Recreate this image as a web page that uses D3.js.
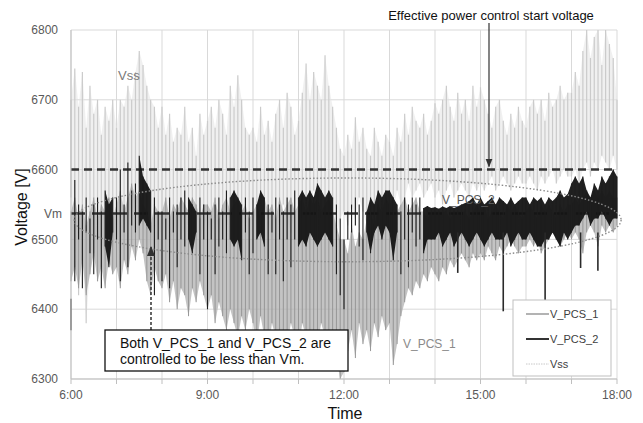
<!DOCTYPE html>
<html><head><meta charset="utf-8">
<script src="https://cdn.jsdelivr.net/npm/d3@7"></script>
<style>body{margin:0;background:#fff}svg{display:block;font-family:"Liberation Sans",Arial,sans-serif}</style>
</head><body><svg id="c" width="643" height="423"></svg>
<script>
// 5-minute bins from 6:00 to 18:00 (145 bins); each bin keeps the max (hi) and min (lo)
const binStartHour = 6, binMinutes = 5;
const vssHi = [
6700,6745,6690,6740,6660,6720,6680,6700,6650,6690,6670,6700,
6660,6700,6690,6720,6700,6740,6770,6750,6720,6700,6690,6660,
6690,6650,6680,6640,6660,6650,6690,6640,6660,6620,6680,6650,
6670,6690,6660,6700,6680,6650,6720,6690,6735,6700,6660,6650,
6660,6640,6690,6650,6670,6640,6680,6700,6660,6710,6690,6650,
6670,6710,6752,6700,6740,6720,6700,6764,6720,6690,6660,6630,
6620,6650,6630,6675,6640,6660,6630,6620,6660,6640,6620,6650,
6640,6620,6660,6640,6680,6650,6690,6670,6660,6680,6650,6670,
6695,6680,6700,6720,6690,6670,6710,6680,6700,6670,6720,6690,
6718,6700,6680,6660,6690,6700,6670,6650,6680,6660,6690,6670,
6660,6690,6700,6680,6700,6670,6710,6690,6700,6720,6700,6710,
6710,6740,6720,6770,6800,6760,6790,6800,6750,6800,6780,6760,
6700];
const vssLo = [
6560,6500,6420,6480,6380,6460,6520,6440,6500,6470,6540,6490,
6520,6460,6540,6500,6560,6530,6580,6520,6480,6500,6460,6520,
6500,6540,6480,6520,6500,6550,6490,6530,6510,6540,6500,6520,
6530,6500,6540,6510,6550,6520,6540,6500,6530,6550,6520,6540,
6520,6540,6510,6550,6530,6500,6540,6520,6550,6530,6510,6540,
6550,6530,6560,6540,6570,6550,6530,6560,6540,6520,6500,6530,
6540,6520,6550,6530,6560,6540,6520,6550,6530,6560,6540,6550,
6560,6540,6570,6550,6560,6580,6560,6570,6580,6560,6570,6580,
6560,6570,6550,6570,6580,6560,6570,6580,6570,6560,6580,6570,
6580,6570,6580,6590,6570,6580,6590,6580,6570,6580,6590,6580,
6580,6590,6580,6570,6590,6580,6590,6600,6580,6590,6600,6590,
6590,6600,6580,6600,6610,6590,6610,6600,6620,6610,6600,6620,
6600];
const pcs1Hi = [
6540,6560,6530,6550,6520,6540,6560,6530,6550,6540,6560,6530,
6550,6570,6540,6560,6580,6560,6570,6550,6540,6520,6550,6540,
6540,6560,6530,6550,6540,6560,6550,6540,6560,6550,6530,6550,
6550,6540,6560,6530,6550,6560,6540,6550,6560,6540,6550,6530,
6540,6550,6530,6560,6540,6550,6530,6560,6540,6550,6560,6540,
6550,6560,6540,6560,6550,6560,6540,6550,6560,6540,6520,6500,
6500,6480,6520,6490,6510,6500,6530,6540,6520,6550,6540,6560,
6550,6560,6540,6550,6560,6540,6550,6560,6540,6540,6530,6540,
6540,6540,6540,6540,6530,6540,6540,6540,6540,6530,6540,6550,
6540,6550,6530,6540,6550,6540,6530,6550,6540,6550,6540,6530,
6540,6550,6540,6530,6550,6540,6550,6540,6530,6550,6540,6550,
6550,6560,6550,6560,6570,6560,6570,6560,6570,6560,6570,6560,
6560];
const pcs1Lo = [
6440,6460,6430,6470,6420,6450,6480,6440,6460,6430,6470,6450,
6460,6430,6470,6450,6490,6470,6500,6480,6440,6420,6460,6440,
6430,6450,6410,6440,6400,6430,6420,6390,6430,6410,6440,6420,
6400,6420,6380,6410,6390,6370,6400,6380,6360,6390,6370,6400,
6380,6350,6390,6360,6340,6380,6360,6330,6370,6350,6380,6360,
6340,6380,6360,6320,6370,6350,6380,6360,6340,6370,6330,6300,
6310,6340,6370,6330,6380,6350,6370,6340,6380,6360,6390,6370,
6380,6320,6350,6390,6410,6430,6420,6440,6430,6450,6440,6460,
6450,6440,6460,6450,6470,6460,6470,6480,6470,6460,6480,6470,
6480,6470,6490,6480,6470,6490,6480,6490,6500,6490,6480,6490,
6490,6500,6490,6500,6480,6490,6500,6510,6500,6490,6500,6510,
6500,6510,6500,6480,6510,6520,6510,6490,6520,6510,6520,6510,
6520];
const pcs2Hi = [
6415,6585,6550,6540,6560,6530,6550,6560,6540,6570,6550,6560,
6560,6600,6550,6610,6570,6580,6620,6590,6580,6570,6560,6540,
6540,6530,6560,6540,6550,6560,6570,6560,6550,6540,6560,6550,
6540,6530,6550,6560,6540,6570,6560,6570,6560,6550,6560,6540,
6560,6550,6570,6560,6550,6540,6560,6550,6540,6560,6550,6570,
6560,6570,6560,6570,6560,6580,6570,6560,6570,6560,6550,6530,
6500,6540,6550,6560,6550,6560,6540,6560,6550,6570,6560,6570,
6570,6560,6550,6540,6560,6550,6560,6550,6560,6545,6548,6545,
6546,6544,6547,6545,6548,6545,6547,6550,6552,6555,6560,6550,
6560,6550,6555,6560,6550,6560,6555,6550,6560,6550,6555,6560,
6560,6550,6560,6555,6560,6550,6560,6555,6560,6570,6560,6565,
6580,6590,6580,6590,6570,6560,6580,6570,6590,6580,6590,6600,
6590];
const pcs2Lo = [
6370,6440,6500,6430,6510,6480,6450,6500,6430,6490,6460,6510,
6500,6440,6510,6460,6520,6510,6520,6530,6520,6510,6420,6500,
6440,6500,6430,6510,6460,6500,6490,6500,6480,6510,6450,6500,
6400,6500,6450,6490,6500,6480,6500,6490,6500,6470,6510,6450,
6480,6500,6510,6490,6450,6510,6450,6500,6440,6500,6460,6500,
6490,6500,6490,6510,6500,6490,6500,6510,6500,6490,6450,6420,
6400,6500,6510,6520,6490,6470,6510,6480,6510,6520,6500,6520,
6510,6470,6510,6450,6500,6460,6510,6490,6500,6480,6500,6500,
6500,6510,6490,6500,6510,6490,6500,6510,6500,6490,6500,6510,
6500,6490,6500,6510,6500,6500,6500,6510,6490,6500,6510,6500,
6500,6510,6500,6490,6490,6500,6500,6510,6500,6490,6510,6500,
6510,6520,6520,6530,6540,6520,6530,6530,6540,6530,6520,6530,
6530];
// isolated deep dips of V_PCS_2 inside its controlled band (hour, lowest voltage)
const pcs2DipHours = [14.5, 15.5, 16.42, 17.2, 17.58];
const pcs2DipLows = [6452, 6397, 6413, 6459, 6455];
// periods (hours) where V_PCS_2 forms a solid controlled band around Vm
const pcs2DenseSpans = [[6.75, 6.92], [7.42, 7.8], [8.58, 8.83], [9.42, 9.83], [10.08, 10.33],
  [10.92, 11.83], [12.5, 12.67], [12.75, 13.17], [13.75, 18]];
const yTicks = [6300, 6400, 6500, 6600, 6700, 6800];
const xTickHours = [6, 9, 12, 15, 18];
const xTickLabels = ["6:00", "9:00", "12:00", "15:00", "18:00"];
const gridHours = [6,7,8,9,10,11,12,13,14,15,16,17,18];
const vmValue = 6537, startVoltage = 6600;
const legendNames = ["V_PCS_1", "V_PCS_2", "Vss"];

const svg = d3.select("#c");
const x = d3.scaleLinear().domain([6, 18]).range([71, 617]);
const y = d3.scaleLinear().domain([6300, 6800]).range([379, 30]);
const tOf = i => binStartHour + i * binMinutes / 60;

// grid
svg.append("g").selectAll("line").data(yTicks).join("line")
  .attr("x1", x(6)).attr("x2", x(18)).attr("y1", d => y(d)).attr("y2", d => y(d))
  .attr("stroke", "#d9d9d9").attr("stroke-width", 1);
svg.append("g").selectAll("line").data(gridHours).join("line")
  .attr("x1", d => x(d)).attr("x2", d => x(d)).attr("y1", y(6800)).attr("y2", y(6300))
  .attr("stroke", "#d9d9d9").attr("stroke-width", 1);

function band(hi, lo, defined) {
  return d3.area().defined(defined || (() => true))
    .x((d, i) => x(tOf(i))).y0((d, i) => y(lo[i])).y1(d => y(d))(hi);
}
function needles(hi, lo) {
  let p = "";
  hi.forEach((h, i) => {
    const xx = x(tOf(i)).toFixed(2);
    p += "M" + xx + "," + y(h).toFixed(2) + "L" + xx + "," + y(lo[i]).toFixed(2);
  });
  return p;
}
function drawSeries(hi, lo, fill, fillOp, stroke, sw, defined) {
  svg.append("path").attr("d", band(hi, lo, defined)).attr("fill", fill).attr("fill-opacity", fillOp).attr("stroke", "none");
  svg.append("path").attr("d", needles(hi, lo)).attr("fill", "none").attr("stroke", stroke).attr("stroke-width", sw);
}
drawSeries(vssHi, vssLo, "#e4e4e4", 0.55, "#cbcbcb", 1.2);
drawSeries(pcs1Hi, pcs1Lo, "#b0b0b0", 0.75, "#969696", 1);

// dashed reference lines
svg.append("line").attr("x1", x(6)).attr("x2", x(18)).attr("y1", y(startVoltage)).attr("y2", y(startVoltage))
  .attr("stroke", "#333").attr("stroke-width", 2.5).attr("stroke-dasharray", "8,5");
svg.append("line").attr("x1", x(6)).attr("x2", x(18)).attr("y1", y(vmValue)).attr("y2", y(vmValue))
  .attr("stroke", "#333").attr("stroke-width", 2.5).attr("stroke-dasharray", "14,7");

const inDense = (d, i) => pcs2DenseSpans.some(s => tOf(i) >= s[0] && tOf(i) <= s[1]);
drawSeries(pcs2Hi, pcs2Lo, "#141414", 0.95, "#1e1e1e", 1.1, inDense);
svg.append("g").selectAll("line").data(pcs2DipHours).join("line")
  .attr("x1", d => x(d)).attr("x2", d => x(d)).attr("y1", y(6510)).attr("y2", (d, i) => y(pcs2DipLows[i]))
  .attr("stroke", "#2a2a2a").attr("stroke-width", 1.6);

// dotted ellipse
const ecx = x(12.08), ecy = y(6528), erx = x(12.08 + 6.01) - x(12.08), ery = y(6468) - y(6528);
svg.append("ellipse").attr("cx", ecx).attr("cy", ecy).attr("rx", erx).attr("ry", ery)
  .attr("fill", "none").attr("stroke", "#8a8a8a").attr("stroke-width", 1.4).attr("stroke-dasharray", "1.5,2");

// axes
svg.append("line").attr("x1", x(6)).attr("x2", x(6)).attr("y1", y(6800)).attr("y2", y(6300)).attr("stroke", "#bfbfbf");
svg.append("line").attr("x1", x(6)).attr("x2", x(18)).attr("y1", y(6300)).attr("y2", y(6300)).attr("stroke", "#bfbfbf");
svg.append("g").selectAll("line").data(gridHours).join("line")
  .attr("x1", d => x(d)).attr("x2", d => x(d)).attr("y1", y(6300)).attr("y2", y(6300) + 5).attr("stroke", "#bfbfbf");
svg.append("g").selectAll("text").data(yTicks).join("text")
  .attr("x", 58).attr("y", d => y(d)).attr("dy", "0.35em").attr("text-anchor", "end")
  .attr("font-size", 12).attr("fill", "#595959").text(d => d);
svg.append("g").selectAll("text").data(xTickHours).join("text")
  .attr("x", d => x(d)).attr("y", 395).attr("dy", "0.35em").attr("text-anchor", "middle")
  .attr("font-size", 12).attr("fill", "#595959").text((d, i) => xTickLabels[i]);
svg.append("text").attr("x", 62).attr("y", y(vmValue)).attr("dy", "0.35em").attr("text-anchor", "end")
  .attr("font-size", 12).attr("fill", "#595959").text("Vm");
svg.append("text").attr("transform", "translate(21,207) rotate(-90)").attr("dy", "0.35em").attr("text-anchor", "middle")
  .attr("font-size", 16).attr("fill", "#111").text("Voltage [V]");
svg.append("text").attr("x", 345).attr("y", 413).attr("dy", "0.35em").attr("text-anchor", "middle")
  .attr("font-size", 16).attr("fill", "#111").text("Time");

// series labels
svg.append("text").attr("x", 118).attr("y", 75).attr("dy", "0.35em").attr("font-size", 13).attr("fill", "#7a7a7a").text("Vss");
svg.append("text").attr("x", 442).attr("y", 200).attr("dy", "0.35em").attr("font-size", 12).attr("fill", "#5a5a5a").text("V_PCS_2");
svg.append("text").attr("x", 403).attr("y", 344).attr("dy", "0.35em").attr("font-size", 12).attr("fill", "#8a8a8a").text("V_PCS_1");

// arrows
const defs = svg.append("defs");
defs.append("marker").attr("id", "ah").attr("viewBox", "0 0 10 10").attr("refX", 9).attr("refY", 5)
  .attr("markerWidth", 7).attr("markerHeight", 7).attr("orient", "auto-start-reverse")
  .append("path").attr("d", "M0,1L10,5L0,9Z").attr("fill", "#333");
svg.append("text").attr("x", 491).attr("y", 15).attr("dy", "0.35em").attr("text-anchor", "middle")
  .attr("font-size", 13).attr("fill", "#111").text("Effective power control start voltage");
svg.append("line").attr("x1", 489).attr("x2", 489).attr("y1", 23).attr("y2", y(startVoltage) - 3)
  .attr("stroke", "#333").attr("stroke-width", 1.2).attr("marker-end", "url(#ah)");
svg.append("line").attr("x1", 151).attr("x2", 151).attr("y1", 330).attr("y2", 247)
  .attr("stroke", "#333").attr("stroke-width", 1.5).attr("stroke-dasharray", "3,2").attr("marker-end", "url(#ah)");

// annotation box
svg.append("rect").attr("x", 105).attr("y", 330).attr("width", 243).attr("height", 41)
  .attr("fill", "#fff").attr("stroke", "#111").attr("stroke-width", 1.3);
svg.append("text").attr("x", 120).attr("y", 343).attr("dy", "0.35em").attr("font-size", 14).attr("fill", "#111").text("Both V_PCS_1 and V_PCS_2 are");
svg.append("text").attr("x", 120).attr("y", 359).attr("dy", "0.35em").attr("font-size", 14).attr("fill", "#111").text("controlled to be less than Vm.");

// legend
const lg = svg.append("g");
lg.append("rect").attr("x", 513).attr("y", 300).attr("width", 98).attr("height", 76)
  .attr("fill", "#fff").attr("stroke", "#bfbfbf");
const legStyles = [{c: "#9a9a9a", w: 1.5, da: null}, {c: "#333", w: 2, da: null}, {c: "#c8c8c8", w: 1, da: "1.5,1"}];
legendNames.forEach((n, i) => {
  const yy = 314 + i * 25;
  lg.append("line").attr("x1", 526).attr("x2", 549).attr("y1", yy).attr("y2", yy)
    .attr("stroke", legStyles[i].c).attr("stroke-width", legStyles[i].w).attr("stroke-dasharray", legStyles[i].da);
  lg.append("text").attr("x", 550).attr("y", yy).attr("dy", "0.35em").attr("font-size", 11).attr("fill", "#404040").text(n);
});
</script></body></html>
